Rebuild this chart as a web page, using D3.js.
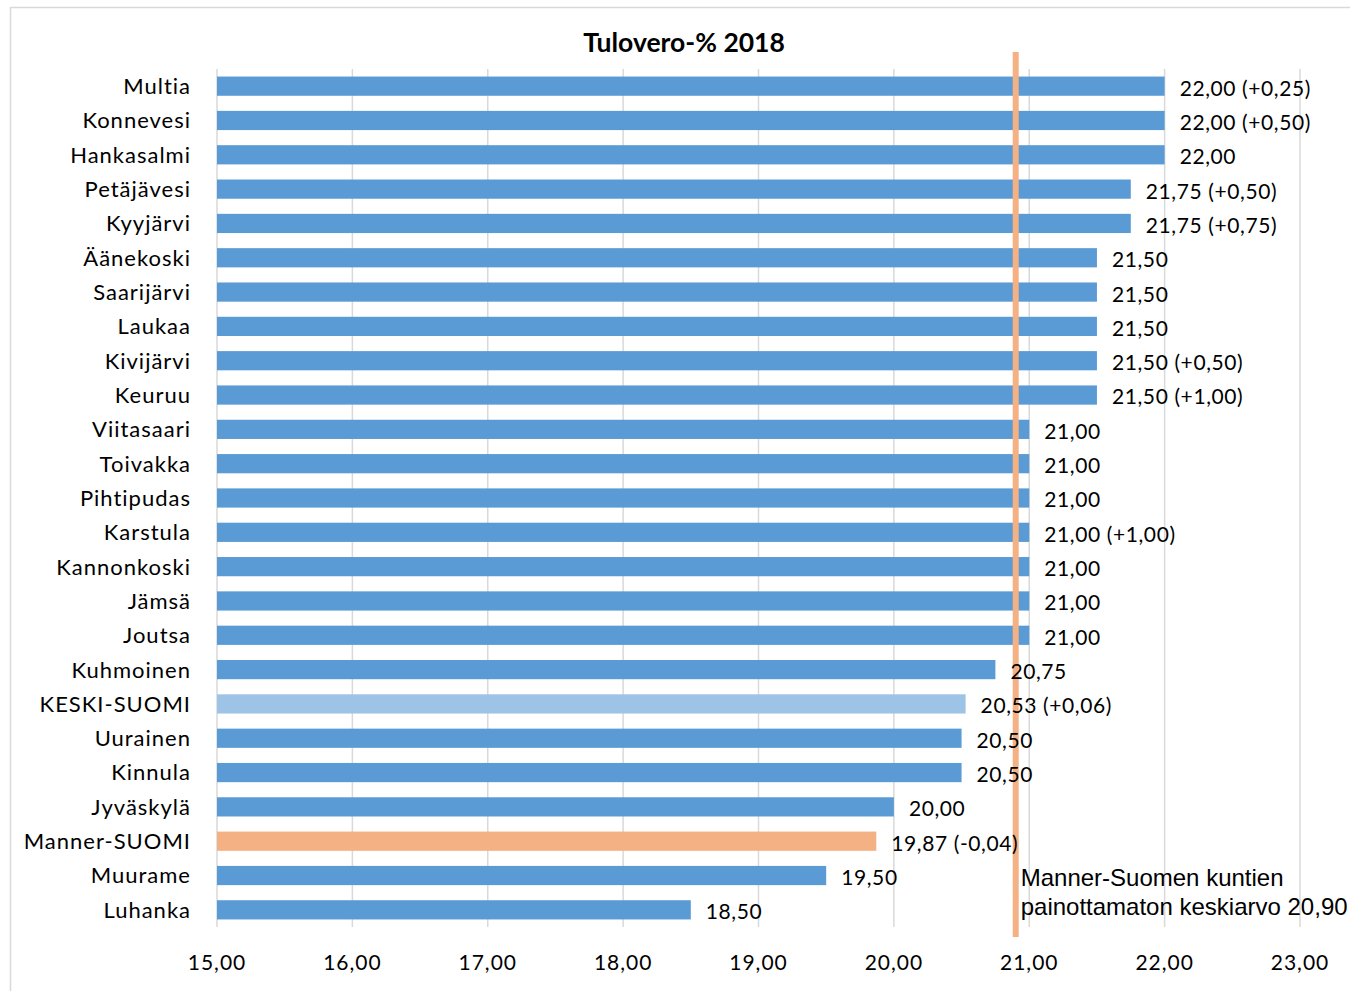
<!DOCTYPE html>
<html>
<head>
<meta charset="utf-8">
<script src="https://cdn.jsdelivr.net/npm/d3@7"></script>
<style>
  body { margin: 0; background: #fff; }
  svg text { font-family: Lato, "Open Sans", sans-serif; }
</style>
</head>
<body>
<svg id="chart" width="1350" height="991"></svg>
<script>
// Kuntien tuloveroprosentit 2018 (suurimmasta pienimpään)
const municipalities = [
  'Multia', 'Konnevesi', 'Hankasalmi', 'Petäjävesi', 'Kyyjärvi', 'Äänekoski',
  'Saarijärvi', 'Laukaa', 'Kivijärvi', 'Keuruu', 'Viitasaari', 'Toivakka',
  'Pihtipudas', 'Karstula', 'Kannonkoski', 'Jämsä', 'Joutsa', 'Kuhmoinen',
  'KESKI-SUOMI', 'Uurainen', 'Kinnula', 'Jyväskylä', 'Manner-SUOMI', 'Muurame', 'Luhanka'
];
const taxRates = [
  22.00, 22.00, 22.00, 21.75, 21.75, 21.50,
  21.50, 21.50, 21.50, 21.50, 21.00, 21.00,
  21.00, 21.00, 21.00, 21.00, 21.00, 20.75,
  20.53, 20.50, 20.50, 20.00, 19.87, 19.50, 18.50
];
// muutos edellisestä vuodesta (null = ei muutosta näytetty)
const changes = [
  '+0,25', '+0,50', null, '+0,50', '+0,75', null,
  null, null, '+0,50', '+1,00', null, null,
  null, '+1,00', null, null, null, null,
  '+0,06', null, null, null, '-0,04', null, null
];
const xTicks = [15, 16, 17, 18, 19, 20, 21, 22, 23];
const unweightedMean = 20.90;
const meanLabel = ['Manner-Suomen kuntien', 'painottamaton keskiarvo 20,90'];

const COLOR_BAR = '#5b9bd5';
const COLOR_REGION = '#9dc3e6';
const COLOR_COUNTRY = '#f4b183';
const COLOR_GRID = '#d9d9d9';

const fmt = v => v.toFixed(2).replace('.', ',');

const svg = d3.select('#chart');

// outer chart border
svg.append('rect')
  .attr('x', 10.5).attr('y', 7.5)
  .attr('width', 1360).attr('height', 1000)
  .attr('fill', 'none')
  .attr('stroke', COLOR_GRID)
  .attr('stroke-width', 1.5);

const x = d3.scaleLinear().domain([15, 23]).range([217, 1300]);
const y = d3.scaleBand().domain(municipalities).range([69, 927]).paddingInner(0.44).paddingOuter(0.22);

// gridlines
svg.append('g')
  .selectAll('line')
  .data(xTicks)
  .join('line')
  .attr('x1', d => x(d)).attr('x2', d => x(d))
  .attr('y1', 69).attr('y2', 927)
  .attr('stroke', COLOR_GRID)
  .attr('stroke-width', 1.5);

// bars
svg.append('g')
  .selectAll('rect')
  .data(municipalities)
  .join('rect')
  .attr('x', x(15))
  .attr('y', d => y(d))
  .attr('height', y.bandwidth())
  .attr('width', (d, i) => x(taxRates[i]) - x(15))
  .attr('fill', d => d === 'KESKI-SUOMI' ? COLOR_REGION : d === 'Manner-SUOMI' ? COLOR_COUNTRY : COLOR_BAR);

// mean line
svg.append('line')
  .attr('x1', x(unweightedMean)).attr('x2', x(unweightedMean))
  .attr('y1', 52).attr('y2', 937)
  .attr('stroke', COLOR_COUNTRY)
  .attr('stroke-width', 6);

// category labels
svg.append('g')
  .selectAll('text')
  .data(municipalities)
  .join('text')
  .attr('x', 191)
  .attr('y', d => y(d) + y.bandwidth() / 2)
  .attr('dy', '0.36em')
  .attr('text-anchor', 'end')
  .attr('font-size', 22)
  .attr('letter-spacing', 1)
  .attr('fill', '#000')
  .text(d => d);

// value labels
svg.append('g')
  .selectAll('text')
  .data(municipalities)
  .join('text')
  .attr('x', (d, i) => x(taxRates[i]) + 15)
  .attr('y', d => y(d) + y.bandwidth() / 2)
  .attr('dy', '0.45em')
  .attr('font-size', 21)
  .attr('letter-spacing', 0.6)
  .attr('fill', '#000')
  .text((d, i) => fmt(taxRates[i]) + (changes[i] ? ' (' + changes[i] + ')' : ''));

// x tick labels
svg.append('g')
  .selectAll('text')
  .data(xTicks)
  .join('text')
  .attr('x', d => x(d))
  .attr('y', 970)
  .attr('text-anchor', 'middle')
  .attr('font-size', 21)
  .attr('letter-spacing', 1)
  .attr('fill', '#000')
  .text(d => fmt(d));

// mean annotation
svg.append('text')
  .attr('x', x(unweightedMean) + 5)
  .attr('y', 886)
  .attr('font-size', 24)
  .attr('fill', '#000')
  .style('font-family', '"Liberation Sans", Arial, sans-serif')
  .selectAll('tspan')
  .data(meanLabel)
  .join('tspan')
  .attr('x', x(unweightedMean) + 5)
  .attr('dy', (d, i) => i === 0 ? 0 : 29)
  .text(d => d);

// title
svg.append('text')
  .attr('x', 684)
  .attr('y', 52)
  .attr('text-anchor', 'middle')
  .attr('font-size', 26.5)
  .attr('font-weight', 'bold')
  .attr('fill', '#000')
  .text('Tulovero-% 2018');
</script>
</body>
</html>
